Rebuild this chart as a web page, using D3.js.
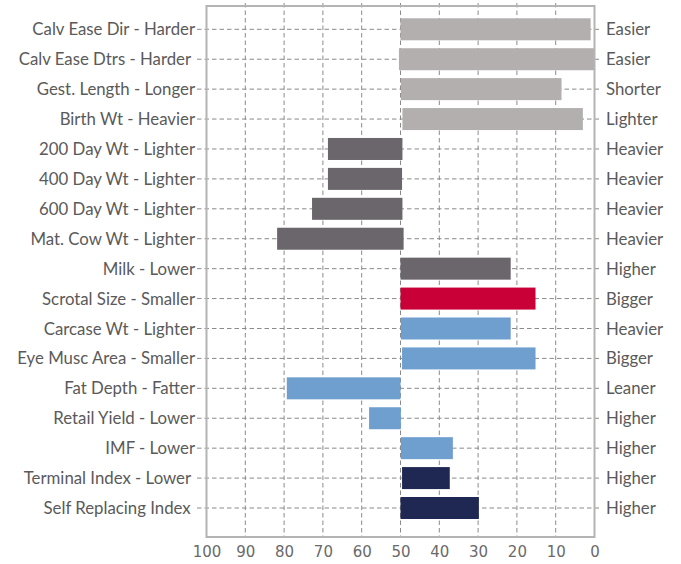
<!DOCTYPE html>
<html><head><meta charset="utf-8">
<script src="https://cdn.jsdelivr.net/npm/d3@7"></script>
<style>
html,body{margin:0;padding:0;background:#fff;}
svg{display:block;}
text{white-space:pre;}
</style></head>
<body><div id="chart"></div>
<script>
const leftLabels = ["Calv Ease Dir - Harder","Calv Ease Dtrs - Harder ","Gest. Length - Longer","Birth Wt - Heavier","200 Day Wt - Lighter","400 Day Wt - Lighter","600 Day Wt - Lighter","Mat. Cow Wt - Lighter","Milk - Lower","Scrotal Size - Smaller","Carcase Wt - Lighter","Eye Musc Area - Smaller","Fat Depth - Fatter","Retail Yield - Lower","IMF - Lower","Terminal Index - Lower ","Self Replacing Index "];
const rightLabels = ["Easier","Easier","Shorter","Lighter","Heavier","Heavier","Heavier","Heavier","Higher","Bigger","Heavier","Bigger","Leaner","Higher","Higher","Higher","Higher"];
const startValues = [50,50.4,49.9,49.5,49.5,49.6,49.5,49.2,50,50,49.9,49.6,50,49.9,49.9,49.6,50];
const endValues = [1.0,0,8.5,3.0,68.7,68.7,72.8,81.8,21.6,15.2,21.6,15.2,79.3,58.1,36.5,37.3,29.8];
const groups = ["dir","dir","dir","dir","growth","growth","growth","growth","growth","fert","carc","carc","carc","carc","carc","index","index"];
const xTicks = [100,90,80,70,60,50,40,30,20,10,0];
const groupColors = {dir:"#b3afae",growth:"#6a666b",fert:"#c80037",carc:"#6f9fcf",index:"#1f2853"};

const W=681,H=564;
const svg=d3.select("#chart").append("svg").attr("width",W).attr("height",H);
const x=d3.scaleLinear().domain([100,0]).range([206.5,594.5]);
const y=d3.scalePoint().domain(d3.range(leftLabels.length)).range([29.3,508]);
const frameTop=6, frameBottom=537;
const gridColor="#8a8a8a", textColor="#5a5a5a";
const labelFont="Lato, sans-serif";

// vertical gridlines
svg.append("g").selectAll("line").data(xTicks.filter(d=>d>0&&d<100)).join("line")
  .attr("x1",d=>x(d)).attr("x2",d=>x(d)).attr("y1",3).attr("y2",frameBottom)
  .attr("stroke",gridColor).attr("stroke-width",1).attr("stroke-dasharray","4.5,3");
// horizontal gridlines
svg.append("g").selectAll("line").data(d3.range(leftLabels.length)).join("line")
  .attr("x1",197).attr("x2",601).attr("y1",d=>y(d)).attr("y2",d=>y(d))
  .attr("stroke",gridColor).attr("stroke-width",1).attr("stroke-dasharray","4.5,3");

// bars
const barH=22;
svg.append("g").selectAll("rect").data(d3.range(leftLabels.length)).join("rect")
  .attr("x",i=>Math.min(x(startValues[i]),x(endValues[i])))
  .attr("width",i=>Math.abs(x(endValues[i])-x(startValues[i])))
  .attr("y",i=>y(i)-barH/2).attr("height",barH)
  .attr("fill",i=>groupColors[groups[i]]);

// frame
svg.append("rect").attr("x",x(100)).attr("y",frameTop)
  .attr("width",x(0)-x(100)).attr("height",frameBottom-frameTop)
  .attr("fill","none").attr("stroke","#b4b4b4").attr("stroke-width",2);

// left labels
svg.append("g").selectAll("text").data(leftLabels).join("text")
  .attr("x",195).attr("y",(d,i)=>y(i)).attr("dy","0.36em")
  .attr("text-anchor","end").attr("font-family",labelFont).attr("font-size",16.8)
  .attr("fill",textColor).text(d=>d);
// right labels
svg.append("g").selectAll("text").data(rightLabels).join("text")
  .attr("x",606).attr("y",(d,i)=>y(i)).attr("dy","0.36em")
  .attr("text-anchor","start").attr("font-family",labelFont).attr("font-size",16.8)
  .attr("fill",textColor).text(d=>d);

// bottom axis labels
const ax=d3.axisBottom(x).tickValues(xTicks).tickSize(0).tickPadding(0);
const gA=svg.append("g").attr("transform","translate(0,546)").call(ax);
gA.select(".domain").remove();
gA.selectAll("text").attr("font-family","'DejaVu Sans', sans-serif").attr("font-size",15).attr("fill","#6a6a6a");
</script></body></html>
